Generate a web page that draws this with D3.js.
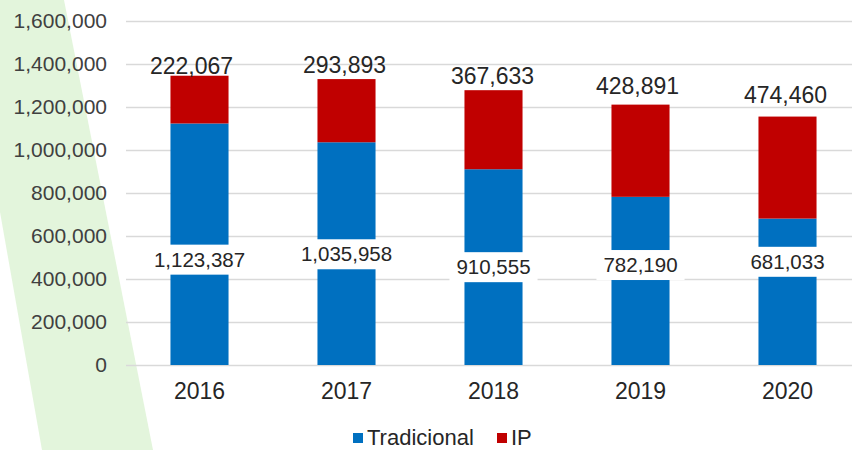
<!DOCTYPE html>
<html>
<head>
<meta charset="utf-8">
<script src="https://cdn.jsdelivr.net/npm/d3@7"></script>
<style>
  body { margin: 0; background: #fff; }
  svg { display: block; font-family: "Liberation Sans", Arial, sans-serif; }
</style>
</head>
<body>
<script>
var years = ['2016', '2017', '2018', '2019', '2020'];
var tradicional = [1123387, 1035958, 910555, 782190, 681033];
var ip = [222067, 293893, 367633, 428891, 474460];
var yTicks = [0, 200000, 400000, 600000, 800000, 1000000, 1200000, 1400000, 1600000];

// where the labels sit, in axis units (they were placed by hand in the original)
var tradLabelAt = [490000, 515000, 455000, 465000, 480000];
var ipLabelAt = [1390000, 1395000, 1345000, 1300000, 1255000];
var ipLabelDx = [-8, -2, -1, -3, -2];

var width = 852, height = 450;
var fmt = d3.format(',');

var svg = d3.select('body').append('svg').attr('width', width).attr('height', height);

// light green band on the left
svg.append('polygon')
   .attr('points', '0,0 64,0 153,450 42,450 0,212')
   .attr('fill', '#e3f5dc');

var x = d3.scaleBand().domain(years).range([126, 861]).paddingInner(0.605).paddingOuter(0.3025);
var y = d3.scaleLinear().domain([0, 1600000]).range([365, 21]);

// gridlines
svg.append('g').selectAll('line')
   .data(yTicks)
   .enter().append('line')
   .attr('x1', 126).attr('x2', width)
   .attr('y1', function(d) { return Math.round(y(d)) + 0.5; })
   .attr('y2', function(d) { return Math.round(y(d)) + 0.5; })
   .attr('stroke', '#d9d9d9')
   .attr('stroke-width', 1.5);

var yAxis = svg.append('g')
   .attr('transform', 'translate(126,0)')
   .call(d3.axisLeft(y).tickValues(yTicks).tickFormat(fmt).tickSize(0).tickPadding(19));
yAxis.select('.domain').remove();
yAxis.selectAll('text').attr('font-size', 21).attr('fill', '#404040').attr('font-family', null);

var xAxis = svg.append('g')
   .attr('transform', 'translate(0,365)')
   .call(d3.axisBottom(x).tickSize(0).tickPadding(18));
xAxis.select('.domain').remove();
xAxis.selectAll('text').attr('font-size', 23).attr('fill', '#262626').attr('font-family', null);

// stacked bars
svg.append('g').selectAll('rect')
   .data(years)
   .enter().append('rect')
   .attr('x', function(d) { return x(d); })
   .attr('width', x.bandwidth())
   .attr('y', function(d, i) { return y(tradicional[i]); })
   .attr('height', function(d, i) { return y(0) - y(tradicional[i]); })
   .attr('fill', '#0070c0');

svg.append('g').selectAll('rect')
   .data(years)
   .enter().append('rect')
   .attr('x', function(d) { return x(d); })
   .attr('width', x.bandwidth())
   .attr('y', function(d, i) { return y(tradicional[i] + ip[i]); })
   .attr('height', function(d, i) { return y(tradicional[i]) - y(tradicional[i] + ip[i]); })
   .attr('fill', '#c00000');

// Tradicional labels on white boxes
var tl = svg.append('g').selectAll('g')
   .data(years)
   .enter().append('g')
   .attr('transform', function(d, i) {
      return 'translate(' + (x(d) + x.bandwidth() / 2) + ',' + y(tradLabelAt[i]) + ')';
   });
tl.append('text')
   .attr('text-anchor', 'middle')
   .attr('dy', '0.35em')
   .attr('font-size', 20.5)
   .attr('fill', '#262626')
   .text(function(d, i) { return fmt(tradicional[i]); });
tl.insert('rect', 'text')
   .each(function() {
      var b = this.parentNode.querySelector('text').getBBox();
      d3.select(this)
        .attr('x', b.x - 7).attr('width', b.width + 14)
        .attr('y', -15).attr('height', 30)
        .attr('fill', '#fff');
   });

// IP labels above bars
svg.append('g').selectAll('text')
   .data(years)
   .enter().append('text')
   .attr('x', function(d, i) { return x(d) + x.bandwidth() / 2 + ipLabelDx[i]; })
   .attr('y', function(d, i) { return y(ipLabelAt[i]); })
   .attr('dy', '0.35em')
   .attr('text-anchor', 'middle')
   .attr('font-size', 23)
   .attr('fill', '#262626')
   .text(function(d, i) { return fmt(ip[i]); });

// legend
var legend = [['Tradicional', '#0070c0'], ['IP', '#c00000']];
var lx = [353, 497];
var lg = svg.append('g').selectAll('g')
   .data(legend)
   .enter().append('g')
   .attr('transform', function(d, i) { return 'translate(' + lx[i] + ',445)'; });
lg.append('rect').attr('x', 0).attr('y', -12).attr('width', 10).attr('height', 10)
   .attr('fill', function(d) { return d[1]; });
lg.append('text').attr('x', 14)
   .attr('font-size', 22).attr('fill', '#262626')
   .text(function(d) { return d[0]; });
</script>
</body>
</html>
